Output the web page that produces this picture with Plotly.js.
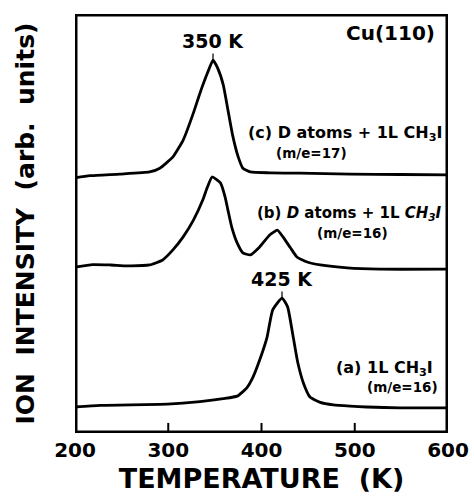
<!DOCTYPE html>
<html>
<head>
<meta charset="utf-8">
<script src="https://cdn.plot.ly/plotly-3.0.1.min.js"></script>
<style>
  html, body { margin: 0; padding: 0; background: #fff; }
  #chart { width: 474px; height: 500px; }
</style>
</head>
<body>
<div id="chart"></div>
<script>
// Temperature (K) and ion intensity (arb. units, curves offset as in the figure)
var tempC = [200, 216, 248, 280, 291, 305, 316, 327, 334, 342, 348, 353, 359, 364, 369, 375, 380, 388, 409, 441, 495, 549, 600];
var intC  = [60.9, 61.4, 61.8, 62.3, 63.2, 65.9, 69.9, 76.4, 81.1, 85.9, 89.0, 87.1, 83.1, 77.1, 71.1, 65.9, 63.2, 62.3, 62.1, 62.0, 61.8, 61.7, 61.6];

var tempB = [200, 219, 238, 256, 280, 294, 305, 316, 327, 337, 342, 347, 356, 361, 364, 368, 374, 380, 388, 398, 409, 417, 423, 431, 438, 449, 463, 492, 527, 600];
var intB  = [39.6, 40.2, 40.1, 39.9, 40.1, 41.3, 43.7, 46.8, 50.8, 55.6, 58.7, 61.1, 59.7, 56.3, 53.2, 49.2, 45.3, 43.0, 42.5, 44.4, 47.3, 48.4, 46.8, 44.2, 42.0, 40.8, 40.1, 39.4, 39.1, 39.1];

var tempA = [200, 227, 299, 334, 359, 374, 384, 391, 398, 406, 412, 422, 428, 434, 439, 445, 452, 463, 477, 495, 513, 549, 600];
var intA  = [6.2, 6.6, 6.9, 7.5, 8.2, 8.8, 10.7, 13.4, 17.4, 22.9, 29.4, 32.2, 30.1, 22.9, 16.7, 11.9, 8.6, 7.3, 6.7, 6.4, 6.2, 6.0, 6.0];

var xTicks = [200, 300, 400, 500, 600];
var xRange = [200, 600];
var yRange = [0, 100];
var peakLabels = ["350 K", "425 K"];
var peakT = [348, 422];
var peakI = [89.0, 32.2];

var FONT = "DejaVu Sans, Liberation Sans, Arial, sans-serif";
function lineStyle() { return {color: "#000", width: 2.8, shape: "spline", smoothing: 0.45}; }

// Plot frame and inside ticks built from the axis ranges and tick values
var frameX = [xRange[0], xRange[1], xRange[1], xRange[0], xRange[0]];
var frameY = [yRange[0], yRange[0], yRange[1], yRange[1], yRange[0]];
var tickLen = (yRange[1] - yRange[0]) * 0.024;
var tickX = [], tickY = [];
xTicks.slice(1, -1).forEach(function (t) {
  tickX.push(t, t, null);
  tickY.push(yRange[0], yRange[0] + tickLen, null);
});

var traces = [
  {x: frameX, y: frameY, mode: "lines", line: {color: "#000", width: 5}, hoverinfo: "skip", showlegend: false},
  {x: tickX, y: tickY, mode: "lines", line: {color: "#000", width: 2}, hoverinfo: "skip", showlegend: false, connectgaps: false},
  {x: tempC, y: intC, mode: "lines", line: lineStyle(), hoverinfo: "skip", showlegend: false},
  {x: tempB, y: intB, mode: "lines", line: lineStyle(), hoverinfo: "skip", showlegend: false},
  {x: tempA, y: intA, mode: "lines", line: lineStyle(), hoverinfo: "skip", showlegend: false}
];

function lbl(x, y, text, size) {
  return {x: x, y: y, xref: "x", yref: "y", text: text, showarrow: false,
          xanchor: "center", yanchor: "middle",
          font: {family: FONT, size: size, color: "#000", weight: "bold"}};
}

var annotations = [
  lbl(537.8, 95.5, "Cu(110)", 20),
  lbl(490.6, 71.6, "(c) D atoms + 1L CH<sub>3</sub>I", 16),
  lbl(453.1, 66.8, "(m/e=17)", 13.5),
  lbl(494.4, 52.5, "(b) <i>D</i> atoms + 1L <i>CH<sub>3</sub>I</i>", 15),
  lbl(497.6, 47.7, "(m/e=16)", 13.5),
  lbl(532.4, 15.5, "(a) 1L CH<sub>3</sub>I", 16),
  lbl(550.7, 11.0, "(m/e=16)", 13.5)
];
for (var i = 0; i < peakLabels.length; i++) {
  annotations.push({
    x: peakT[i], y: peakI[i], xref: "x", yref: "y", text: peakLabels[i],
    showarrow: true, arrowhead: 0, arrowwidth: 1.2, arrowcolor: "#000",
    ax: 0, ay: -19, standoff: 0,
    font: {family: FONT, size: 19, color: "#000", weight: "bold"}
  });
}

var layout = {
  width: 474, height: 500,
  margin: {l: 75, r: 26, t: 14, b: 67},
  paper_bgcolor: "#fff", plot_bgcolor: "#fff",
  font: {family: FONT, color: "#000"},
  xaxis: {
    range: xRange, tickvals: xTicks, ticktext: xTicks.map(String),
    ticks: "", showline: false, ticklabelstandoff: 3,
    showgrid: false, zeroline: false,
    tickfont: {family: FONT, size: 20, color: "#000", weight: "bold"},
    title: {text: "TEMPERATURE  (K)", standoff: 8,
            font: {family: FONT, size: 27, color: "#000", weight: "bold"}}
  },
  yaxis: {
    range: yRange, showticklabels: false, ticks: "", showline: false,
    showgrid: false, zeroline: false,
    title: {text: "ION  INTENSITY  (arb.  units)", standoff: 32,
            font: {family: FONT, size: 25, color: "#000", weight: "bold"}}
  },
  annotations: annotations
};

Plotly.newPlot("chart", traces, layout, {displayModeBar: false});
</script>
</body>
</html>
